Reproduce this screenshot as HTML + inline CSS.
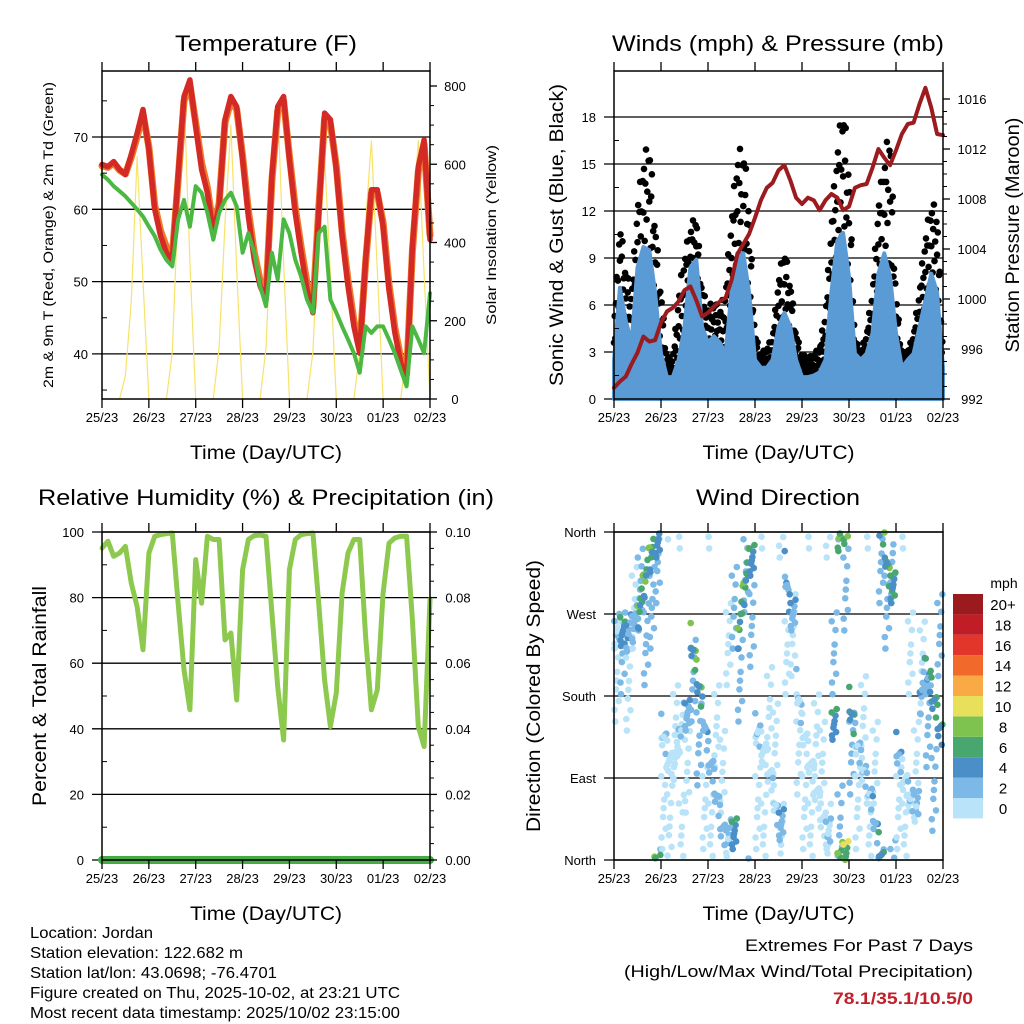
<!DOCTYPE html>
<html><head><meta charset="utf-8"><style>
html,body{margin:0;padding:0;background:#fff;}
svg{display:block;font-family:"Liberation Sans",Arial,sans-serif;}
</style></head><body>
<svg id="fig" width="1024" height="1024" viewBox="0 0 1024 1024">
<g id="gridlayer"></g><g id="datalayer"></g><g id="axislayer"></g><g id="textlayer"></g>
</svg>
<script>
// ---- data (3-hourly, 57 samples over 7 days) ----
const dayLabels = ["25/23","26/23","27/23","28/23","29/23","30/23","01/23","02/23"];
const temp2m = [66.2,65.9,66.6,65.5,64.8,67.6,70.5,73.8,68.2,60,56.3,54,53,64.6,75.6,77.9,71.5,65.5,62.3,56.7,60.4,72.4,75.6,74.2,66.9,59,53,49.4,47.5,64.6,74.2,75.6,66.9,59.5,54,48.9,45.7,59.5,73.3,72.4,65.5,56.3,49.4,43.8,40.1,53,62.7,62.7,57.6,48.9,42.9,38.8,36.5,54.9,65.9,69.6,55.8];
const temp9m = [66.0,65.8,66.4,65.4,64.9,67.2,70.0,73.2,68.6,60.6,57.0,54.8,53.6,64.0,75.0,77.2,72.0,66.4,63.0,57.4,60.8,72.0,75.0,73.8,67.4,59.8,54.0,50.2,48.2,64.0,73.6,75.0,67.4,60.2,54.8,49.8,46.4,60.0,72.6,71.8,66.0,57.0,50.2,44.6,40.8,52.6,62.2,62.2,58.2,49.6,43.6,39.4,37.2,54.2,65.2,69.0,56.4];
const dewpt = [64.8,64.1,63.2,62.5,61.8,60.9,60,59,57.6,56.3,54.4,53,52.1,58.6,61.3,57.6,63.2,62.3,59.5,55.8,59.5,61.3,62.3,60.4,54,56.7,54,49.4,46.6,54,50.3,58.6,56.7,53,50.7,47.5,45.7,56.7,57.6,47.5,45.7,43.8,42,40.1,37.4,43.8,42.9,43.8,43.8,42,40.1,37.8,35.5,43.8,42,40.1,48.4];
const solar = [0,0,0,0,60,250,620,300, 0,0,0,0,120,500,780,350, 0,0,0,0,130,450,700,330, 0,0,0,0,130,480,760,350, 0,0,0,0,120,450,620,320, 0,0,0,0,120,450,660,330, 0,0,0,0,120,460,660,320, 0];
const pressure = [992.9,993.4,993.8,994.8,995.7,997,996.6,996.7,998.1,999,999.3,999.8,1000.7,1001,999.9,998.6,998.9,999.4,999.8,1000.1,1001.5,1003.6,1004.4,1005.2,1006.5,1007.9,1008.9,1009.3,1010.3,1010.7,1009.5,1008.1,1007.6,1008.1,1007.9,1007.1,1007.9,1008.4,1008.1,1007.1,1007.4,1008.9,1009.1,1009.2,1010.5,1012,1011.3,1010.7,1011.9,1013.2,1014,1014.1,1015.6,1016.9,1015.3,1013.2,1013.1];
const windSpd = [2.5,7.1,5,3.6,8.4,9.7,9.5,6.8,2.9,1.4,1.4,2.5,4.6,8.4,8.9,4.6,3.6,4,3.6,2.9,6.8,9.3,9.3,6.8,2.5,2,2,2.5,4.6,5.5,4.6,2.5,1.4,1.4,1.5,1.7,2.5,6.8,10.1,10.6,7.8,2.9,2.5,2.9,4.2,8,9.3,7.8,4.2,2,2.5,2.9,4.6,6.3,8,6.8,2];
const windGust = [4.9,11.4,8.4,6.8,12.7,15.3,16.7,11.4,7.1,2.7,2.6,6.8,9.3,11,11.9,7.1,5.9,6.3,5.7,7.1,11.9,15.7,16.3,12.7,4.2,2.9,3.3,4,7.8,9.7,7.6,4.2,2.9,2.6,2.9,3.3,5.7,11.4,16.3,18.9,15.3,3.8,3.1,4.2,7.1,12.7,15.3,17.8,6.8,2.9,3.1,4.2,7.1,10.6,12.5,12.3,2.9];
const relHum = [95.1,97.2,92.6,93.6,95.6,84.4,77.3,64.1,93.6,98.7,99.2,99.5,99.7,78.3,58,45.8,91.6,78.3,98.7,97.7,97.7,67.1,69.2,48.8,88.5,97.7,98.9,99.1,98.7,75.3,52.9,36.6,88.5,97.7,99.2,99.5,99.7,78.3,54.9,40.7,50.9,81.4,93.6,97.7,97.7,68.2,45.8,51.9,81.4,96.6,98.2,98.7,98.7,73.2,40.7,34.6,79.4];
const precip = [0,0,0,0,0,0,0,0,0,0,0,0,0,0,0,0,0,0,0,0,0,0,0,0,0,0,0,0,0,0,0,0,0,0,0,0,0,0,0,0,0,0,0,0,0,0,0,0,0,0,0,0,0,0,0,0,0];
const dirMain = [250,255,245,255,265,300,330,350,150,120,100,130,160,250,210,170,120,90,50,20,30,240,290,330,150,130,110,80,40,330,270,200,150,120,90,60,30,150,355,5,180,140,110,85,60,20,350,300,130,100,75,60,170,210,190,160,130];
const dirScatter = [200,230,190,280,300,240,280,330,60,40,150,30,100,200,130,60,30,150,100,240,280,200,320,260,60,30,170,130,20,230,250,120,60,30,140,110,20,230,40,300,120,60,160,30,110,330,280,340,60,30,230,110,220,150,80,250,60];
const tempTicks = [40,50,60,70];
const solarTicks = [0,200,400,600,800];
const windTicks = [0,3,6,9,12,15,18];
const presTicks = [992,996,1000,1004,1008,1012,1016];
const rhTicks = [0,20,40,60,80,100];
const rainTicks = ["0.00","0.02","0.04","0.06","0.08","0.10"];
const dirTicks = ["North","East","South","West","North"];
const legendLabels = ["0","2","4","6","8","10","12","14","16","18","20+"];
const legendColors = ["#b9e3f8","#7cb9e6","#4a8fc8","#48a66f","#7ec34f","#e8e05a","#f9aa45","#f26a2b","#e2362b","#c11d27","#9a1a1e"];

const NS="http://www.w3.org/2000/svg";
const G=document.getElementById('gridlayer'),D=document.getElementById('datalayer'),A=document.getElementById('axislayer'),T=document.getElementById('textlayer');
function mk(tag,attrs,parent){const e=document.createElementNS(NS,tag);for(const k in attrs)e.setAttribute(k,attrs[k]);parent.appendChild(e);return e;}
const NSTEP=56;
function px(panel,k){return panel.x0+k*(panel.x1-panel.x0)/NSTEP;}
const PT={x0:102,x1:430,y0:71,y1:399}, PW={x0:614,x1:943,y0:71,y1:399}, PR={x0:102,x1:430,y0:532,y1:860}, PD={x0:614,x1:943,y0:532,y1:860};
const yT=v=>137+(70-v)*7.23, yS=v=>399-v*313/800, yW=v=>399-v*282/18, yP=v=>399-(v-992)*12.5, yR=v=>860-v*3.28, yRain=v=>860-v*3280, yD=v=>860-v*328/360;

function line(x1,y1,x2,y2,stroke,w,parent,name){const l=mk('line',{x1,y1,x2,y2,stroke,'stroke-width':w},parent);

return l;}
function text(x,y,s,size,anchor,parent,name,extra){const t=mk('text',Object.assign({x,y,'font-size':size,'text-anchor':anchor,fill:'#000'},extra||{}),parent);t.textContent=s;

return t;}
function poly(pts,stroke,w,parent,name){const p=mk('polyline',{points:pts.map(q=>q[0].toFixed(1)+','+q[1].toFixed(1)).join(' '),fill:'none',stroke,'stroke-width':w,'stroke-linejoin':'round','stroke-linecap':'round'},parent);

return p;}

function frame(P,name){const r=mk('rect',{x:P.x0,y:P.y0,width:P.x1-P.x0,height:P.y1-P.y0,fill:'none',stroke:'#000','stroke-width':1.5},A);


for(let d=0;d<dayLabels.length;d++){const x=P.x0+d*(P.x1-P.x0)/7;
line(x,P.y0-9,x,P.y0,'#000',1.3,A,'x-tick-top');
line(x,P.y1,x,P.y1+9,'#000',1.3,A,'x-tick');
text(x,P.y1+23,dayLabels[d],13,'middle',T,'x-tick-label');}
text((P.x0+P.x1)/2,P.y1+60,'Time (Day/UTC)',19,'middle',T,'x-axis-title',{textLength:152,lengthAdjust:'spacingAndGlyphs'});}

// ---------- Temperature panel ----------
tempTicks.forEach(v=>{line(92,yT(v),PT.x1,yT(v),'#000',1.3,G,'temp-gridline');text(88,yT(v)+5,String(v),13,'end',T,'temp-tick-label');});
[35,45,55,65,75].forEach(v=>line(PT.x0,yT(v),PT.x0+5,yT(v),'#000',1,A,'temp-minor-tick'));
solarTicks.forEach(v=>{line(PT.x1,yS(v),PT.x1+7,yS(v),'#000',1.3,A,'solar-tick');text(455,yS(v)+5,String(v),13,'middle',T,'solar-tick-label');});
for(let v=50;v<800;v+=50){if(v%200)line(PT.x1,yS(v),PT.x1+4,yS(v),'#000',1,A,'solar-minor-tick');}
poly(solar.map((v,k)=>[px(PT,k),yS(v)]),'#f7e36a',1.2,D,'solar-line');
poly(temp9m.map((v,k)=>[px(PT,k),yT(v)]),'#f07a2a',7,D,'temp-9m-line');
poly(temp2m.map((v,k)=>[px(PT,k),yT(v)]),'#d42a26',5.5,D,'temp-2m-line');
poly(dewpt.map((v,k)=>[px(PT,k),yT(v)]),'#4ab843',4,D,'dewpoint-line');
frame(PT,'temp-plot-frame');
text(266,51,'Temperature (F)',22,'middle',T,'temp-title',{textLength:182,lengthAdjust:'spacingAndGlyphs'});
text(0,0,'2m & 9m T (Red, Orange) & 2m Td (Green)',14,'middle',T,'temp-y-axis-title',{transform:'translate(53,235) rotate(-90)',textLength:306,lengthAdjust:'spacingAndGlyphs'});
text(0,0,'Solar Insolation (Yellow)',14,'middle',T,'solar-y-axis-title',{transform:'translate(496,235) rotate(-90)',textLength:180,lengthAdjust:'spacingAndGlyphs'});

// ---------- Winds panel ----------
windTicks.forEach(v=>{line(604,yW(v),PW.x1,yW(v),'#000',1.3,G,'wind-gridline');text(596,yW(v)+5,String(v),13,'end',T,'wind-tick-label');});
windTicks.slice(0,-1).forEach(v=>line(PW.x0,yW(v+1.5),PW.x0+5,yW(v+1.5),'#000',1,A,'wind-minor-tick'));
presTicks.forEach(v=>{line(PW.x1,yP(v),PW.x1+7,yP(v),'#000',1.3,A,'pressure-tick');text(972,yP(v)+5,String(v),13,'middle',T,'pressure-tick-label');});
for(let v=993;v<1016;v++){if(v%4)line(PW.x1,yP(v),PW.x1+4,yP(v),'#000',1,A,'pressure-minor-tick');}
// gust dots
windGust.forEach((g,k)=>{if(k>=NSTEP)return;const s=windSpd[k],g2=windGust[k+1],s2=windSpd[k+1];
for(let i=0;i<9;i++){const f=i/9;const lo=s+(s2-s)*f,hi=g+(g2-g)*f;const fr=[0.55,0.9,0.3,0.75,1,0.45,0.65,0.2,0.85][i];
const c=mk('circle',{cx:(px(PW,k)+f*(px(PW,1)-PW.x0)).toFixed(1),cy:yW(lo*0.8+(hi-lo*0.8)*fr).toFixed(1),r:3.3,fill:'#000'},D);

}});
// sustained wind band
{const pts=windSpd.map((v,k)=>[px(PW,k),yW(v)]);const top=pts.map(q=>q[0].toFixed(1)+','+q[1].toFixed(1)).join(' ');
const pg=mk('polygon',{points:top+' '+PW.x1+','+yW(0)+' '+PW.x0+','+yW(0),fill:'#5b9bd5',stroke:'#5b9bd5','stroke-width':4,'stroke-linejoin':'round'},D);

}
poly(pressure.map((v,k)=>[px(PW,k),yP(v)]),'#9c1b1e',4,D,'pressure-line');
frame(PW,'wind-plot-frame');
text(778,51,'Winds (mph) & Pressure (mb)',22,'middle',T,'wind-title',{textLength:332,lengthAdjust:'spacingAndGlyphs'});
text(0,0,'Sonic Wind & Gust (Blue, Black)',19,'middle',T,'wind-y-axis-title',{transform:'translate(563,235) rotate(-90)',textLength:302,lengthAdjust:'spacingAndGlyphs'});
text(0,0,'Station Pressure (Maroon)',19,'middle',T,'pressure-y-axis-title',{transform:'translate(1019,235) rotate(-90)',textLength:235,lengthAdjust:'spacingAndGlyphs'});

// ---------- RH panel ----------
rhTicks.forEach((v,i)=>{line(92,yR(v),PR.x1,yR(v),'#000',1.3,G,'rh-gridline');text(84,yR(v)+5,String(v),13,'end',T,'rh-tick-label');
line(PR.x1,yR(v),PR.x1+7,yR(v),'#000',1.3,A,'rain-tick');text(458,yR(v)+5,rainTicks[i],13,'middle',T,'rain-tick-label');});
for(let v=10;v<100;v+=20)line(PR.x0,yR(v),PR.x0+5,yR(v),'#000',1,A,'rh-minor-tick');
for(let v=5;v<100;v+=5){if(v%20)line(PR.x1,yR(v),PR.x1+4,yR(v),'#000',1,A,'rain-minor-tick');}
poly(relHum.map((v,k)=>[px(PR,k),yR(v)]),'#8dc94e',5,D,'rh-line');
poly(precip.map((v,k)=>[px(PR,k),yRain(v)]),'#46ab44',8,D,'precip-line');
frame(PR,'rh-plot-frame');
text(266,505,'Relative Humidity (%) & Precipitation (in)',22,'middle',T,'rh-title',{textLength:456,lengthAdjust:'spacingAndGlyphs'});
text(0,0,'Percent & Total Rainfall',19,'middle',T,'rh-y-axis-title',{transform:'translate(46,696) rotate(-90)',textLength:220,lengthAdjust:'spacingAndGlyphs'});

// ---------- Wind direction panel ----------
dirTicks.forEach((s,i)=>{const v=i*90;line(604,yD(v),PD.x1,yD(v),'#000',1.3,G,'dir-gridline');text(596,yD(v)+5,s,13,'end',T,'dir-tick-label');});
function spdColor(s){let i=Math.floor(s/2);if(i<0)i=0;if(i>10)i=10;return legendColors[i];}
const jx=[0.1,0.7,0.35,0.9,0.2,0.55,0.8,0.05,0.45];
const jd=[-22,14,-8,26,-30,4,-16,20,-2];
dirScatter.forEach((d,k)=>{if(k>=NSTEP)return;for(let i=0;i<9;i++){let v=d+jd[i]*1.6;v=((v%360)+360)%360;
const c=mk('circle',{cx:(px(PD,k)+jx[i]*(px(PD,1)-PD.x0)).toFixed(1),cy:yD(v).toFixed(1),r:3.3,fill:spdColor(windSpd[k]*0.35)},D);

}});
dirMain.forEach((d,k)=>{if(k>=NSTEP)return;const d2=dirMain[k+1];let dd=d2-d;if(dd>180)dd-=360;if(dd<-180)dd+=360;if(Math.abs(dd)>60)dd=0;
for(let i=0;i<9;i++){const f=jx[i];let v=d+dd*f+jd[i]*0.6;v=((v%360)+360)%360;
const c=mk('circle',{cx:(px(PD,k)+f*(px(PD,1)-PD.x0)).toFixed(1),cy:yD(v).toFixed(1),r:3.3,fill:spdColor(windSpd[k]*(0.6+0.12*(i%4)))},D);

}});
frame(PD,'dir-plot-frame');
text(778,505,'Wind Direction',22,'middle',T,'dir-title',{textLength:164,lengthAdjust:'spacingAndGlyphs'});
text(0,0,'Direction (Colored By Speed)',19,'middle',T,'dir-y-axis-title',{transform:'translate(540,696) rotate(-90)',textLength:272,lengthAdjust:'spacingAndGlyphs'});
// legend
text(1004,588,'mph',14,'middle',T,'legend-title');
legendColors.forEach((c,i)=>{const y=798-i*20.4;const r=mk('rect',{x:953,y:y,width:30,height:20.4,fill:c},T);


text(1003,y+16,legendLabels[i],15,'middle',T,'legend-label');});

// ---------- footer text ----------
const info=["Location: Jordan","Station elevation: 122.682 m","Station lat/lon: 43.0698; -76.4701","Figure created on Thu, 2025-10-02, at 23:21 UTC","Most recent data timestamp: 2025/10/02 23:15:00"];
const infoW=[123,213,247,370,370];
info.forEach((s,i)=>text(30,938+i*20,s,16,'start',T,'station-info-line',{textLength:infoW[i],lengthAdjust:'spacingAndGlyphs'}));
text(973,951,'Extremes For Past 7 Days',17,'end',T,'extremes-heading',{textLength:228,lengthAdjust:'spacingAndGlyphs'});
text(973,977,'(High/Low/Max Wind/Total Precipitation)',17,'end',T,'extremes-subheading',{textLength:349,lengthAdjust:'spacingAndGlyphs'});
text(973,1004,'78.1/35.1/10.5/0',17,'end',T,'extremes-values',{fill:'#c0202a','font-weight':'bold',textLength:140,lengthAdjust:'spacingAndGlyphs'});
</script>
</body></html>
